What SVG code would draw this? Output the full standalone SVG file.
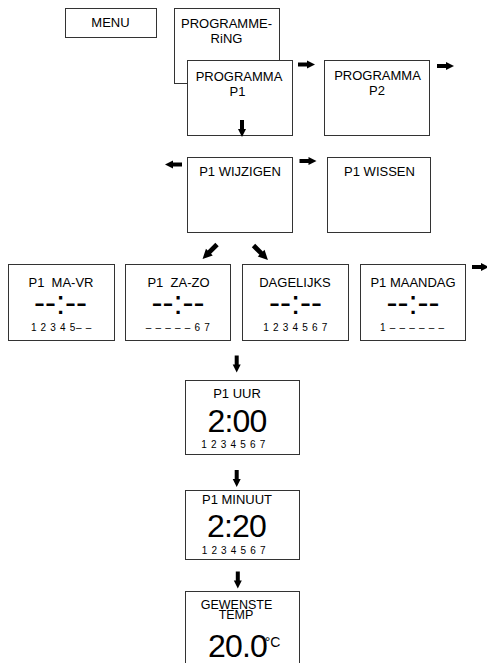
<svg xmlns="http://www.w3.org/2000/svg" xmlns:xlink="http://www.w3.org/1999/xlink" width="487" height="663" viewBox="0 0 487 663">
<defs>
<style>
rect.box{fill:#fff;stroke:#333;stroke-width:1}
text{font-family:"Liberation Sans",Arial,sans-serif;fill:#000;text-anchor:middle}
.t{font-size:13px}
.big{font-size:33px}
.num{font-size:32px;letter-spacing:-0.8px}
.d{font-size:10px;letter-spacing:0.7px}
.arr{fill:#000}
</style>
<path id="ar" class="arr" d="M0,-2 H9 V-4 L17,0 L9,4 V2 H0 Z"/>
</defs>
<rect width="487" height="663" fill="#fff"/>

<g id="menu">
<rect class="box" x="65.5" y="8.5" width="91" height="29"/>
<text class="t" x="110.5" y="27">MENU</text>
</g>

<g id="programmering">
<rect class="box" x="174.5" y="8.5" width="105" height="75"/>
<text class="t" x="226.5" y="28">PROGRAMME-</text>
<text class="t" x="226.5" y="43">RiNG</text>
</g>

<g id="programma-p1">
<rect class="box" x="187.5" y="60.5" width="105" height="75"/>
<text class="t" x="239" y="81">PROGRAMMA</text>
<text class="t" x="237.5" y="96">P1</text>
</g>

<g id="programma-p2">
<rect class="box" x="324.5" y="60.5" width="105" height="75"/>
<text class="t" x="377.5" y="80">PROGRAMMA</text>
<text class="t" x="377" y="95">P2</text>
</g>

<g id="p1-wijzigen">
<rect class="box" x="187.5" y="157.5" width="105" height="75"/>
<text class="t" x="240" y="176">P1 WIJZIGEN</text>
</g>

<g id="p1-wissen">
<rect class="box" x="327.5" y="157.5" width="103" height="75"/>
<text class="t" x="379.5" y="176">P1 WISSEN</text>
</g>

<g id="p1-ma-vr">
<rect class="box" x="8.5" y="264.5" width="106" height="76"/>
<text class="t" x="61" y="286.5" xml:space="preserve">P1  MA-VR</text>
<text class="big" x="60.5" y="313.5">--:--</text>
<text class="d" x="61.5" y="331">1 2 3 4 5– –</text>
</g>

<g id="p1-za-zo">
<rect class="box" x="125.5" y="264.5" width="105" height="76"/>
<text class="t" x="178.5" y="286.5" xml:space="preserve">P1  ZA-ZO</text>
<text class="big" x="178" y="313.5">--:--</text>
<text class="d" x="178.2" y="331">– – – – – 6 7</text>
</g>

<g id="dagelijks">
<rect class="box" x="242.5" y="264.5" width="106" height="76"/>
<text class="t" x="295" y="286.5">DAGELIJKS</text>
<text class="big" x="295.5" y="313.5">--:--</text>
<text class="d" x="295.6" y="331">1 2 3 4 5 6 7</text>
</g>

<g id="p1-maandag">
<rect class="box" x="360.5" y="264.5" width="105" height="76"/>
<text class="t" x="413" y="286.5">P1 MAANDAG</text>
<text class="big" x="413" y="313.5">--:--</text>
<text class="d" x="412.3" y="331">1 – – – – – –</text>
</g>

<g id="p1-uur">
<rect class="box" x="185.5" y="380.5" width="114" height="74"/>
<text class="t" x="237" y="398">P1 UUR</text>
<text class="num" x="237" y="431.5">2:00</text>
<text class="d" x="233.6" y="448.3">1 2 3 4 5 6 7</text>
</g>

<g id="p1-minuut">
<rect class="box" x="185.5" y="490.5" width="114" height="69"/>
<text class="t" x="237" y="503.5">P1 MINUUT</text>
<text class="num" x="236.5" y="536.7">2:20</text>
<text class="d" x="234" y="554">1 2 3 4 5 6 7</text>
</g>

<g id="gewenste-temp">
<rect class="box" x="185.5" y="591.5" width="114" height="80"/>
<text x="236.5" y="608.5" style="font-size:12.5px">GEWENSTE</text>
<text x="236" y="618.5" style="font-size:12.5px">TEMP</text>
<text class="num" x="237.5" y="656.7">20.0</text>
<text x="272.5" y="646.7" style="font-size:14px">°C</text>
</g>

<g id="connectors">
<use xlink:href="#ar" transform="translate(298,64.5)"/>
<use xlink:href="#ar" transform="translate(437,66)"/>
<use xlink:href="#ar" transform="translate(242,120) rotate(90)"/>
<use xlink:href="#ar" transform="translate(182,164.5) rotate(180)"/>
<use xlink:href="#ar" transform="translate(299.5,161)"/>
<use xlink:href="#ar" transform="translate(217,244.5) rotate(135) scale(1.2)"/>
<use xlink:href="#ar" transform="translate(253.5,245.5) rotate(45) scale(1.2)"/>
<use xlink:href="#ar" transform="translate(472,267)"/>
<use xlink:href="#ar" transform="translate(236.7,355.5) rotate(90)"/>
<use xlink:href="#ar" transform="translate(236.7,470) rotate(90)"/>
<use xlink:href="#ar" transform="translate(237.8,571.5) rotate(90)"/>
</g>
</svg>
